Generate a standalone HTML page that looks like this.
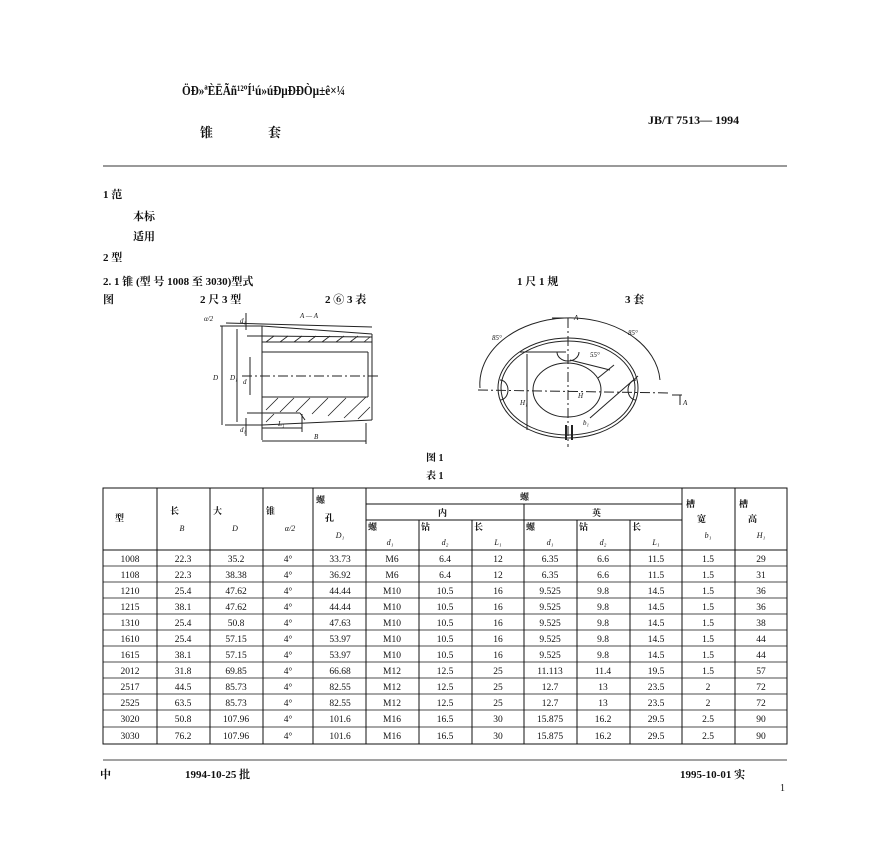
<!DOCTYPE html>
<html><head><meta charset="utf-8"><style>
html,body{margin:0;padding:0;background:#fff}
svg{display:block}
text{font-family:"Liberation Serif","Noto Serif CJK SC",serif;fill:#111}
.b{font-weight:bold}
</style></head><body>
<svg width="870" height="842" viewBox="0 0 870 842" xmlns="http://www.w3.org/2000/svg">
<g class="b" font-size="13">
<text x="182" y="95" font-size="14" textLength="163" lengthAdjust="spacingAndGlyphs">ÖÐ»ªÈËÃñ¹²ºÍ¹ú»úÐµÐÐÒµ±ê×¼</text>
<text x="200" y="137">锥</text><text x="268" y="137">套</text>
<text x="648" y="124" font-size="12">JB/T  7513— 1994</text>
</g>
<line x1="103" y1="166" x2="787" y2="166" stroke="#333" stroke-width="1"/>
<g class="b" font-size="11">
<text x="103" y="198">1  范</text>
<text x="133" y="220">本标</text>
<text x="133" y="240">适用</text>
<text x="103" y="261">2  型</text>
<text x="103" y="285">2. 1  锥  (型 号  1008 至 3030)型式</text>
<text x="517" y="285">1  尺    1 规</text>
<text x="103" y="303">图</text>
<text x="200" y="303">2 尺    3 型</text>
<text x="325" y="303">2 ⑥    3 表</text>
<text x="625" y="303">3 套</text>
</g>
<!-- left drawing -->
<g stroke="#222" fill="none" stroke-width="1">
<line x1="262" y1="326" x2="262" y2="440"/>
<line x1="262" y1="326" x2="372" y2="334"/>
<line x1="262" y1="425" x2="372" y2="420"/>
<line x1="372" y1="334" x2="372" y2="420"/>
<line x1="262" y1="336" x2="372" y2="337"/>
<line x1="262" y1="342" x2="372" y2="342"/>
<line x1="262" y1="352" x2="368" y2="352"/>
<line x1="262" y1="397" x2="368" y2="397"/>
<line x1="262" y1="413" x2="300" y2="413"/>
<line x1="300" y1="413" x2="305" y2="420"/>
<line x1="368" y1="352" x2="368" y2="397"/>
<line x1="220" y1="326" x2="262" y2="326"/>
<line x1="225" y1="425" x2="262" y2="425"/>
<line x1="222" y1="326" x2="222" y2="425"/>
<line x1="237" y1="329" x2="237" y2="422"/>
<line x1="250" y1="357" x2="250" y2="395"/>
<line x1="247" y1="336" x2="262" y2="336"/>
<line x1="247" y1="413" x2="262" y2="413"/>
<line x1="262" y1="428" x2="302" y2="428"/>
<line x1="302" y1="414" x2="302" y2="432"/>
<line x1="262" y1="441" x2="366" y2="441"/>
<line x1="366" y1="423" x2="366" y2="444"/>
<line x1="242" y1="376" x2="380" y2="376" stroke-dasharray="10 3 2 3"/>
<line x1="226" y1="323" x2="372" y2="327"/>
<line x1="246" y1="313" x2="246" y2="330"/>
<line x1="246" y1="418" x2="246" y2="436"/>
</g>
<g stroke="#222" stroke-width="0.8">
<path d="M266 342l8-6M280 342l8-6M294 342l8-6M308 342l8-6M322 342l8-6M336 342l8-6M350 342l8-6M364 342l6-5"/>
<path d="M266 410l12-12M280 412l14-14M296 412l14-14M312 414l16-16M328 416l18-18M344 418l22-21M358 419l12-12M266 422l8-8"/>
</g>
<g font-size="7" font-style="italic">
<text x="204" y="321">α/2</text><text x="300" y="318">A — A</text>
<text x="213" y="380">D</text><text x="230" y="380">D₁</text><text x="243" y="384">d</text>
<text x="240" y="323">d₁</text><text x="240" y="432">d₁</text>
<text x="278" y="426">L₁</text><text x="314" y="439">B</text>
</g>
<!-- right drawing -->
<g stroke="#222" fill="none" stroke-width="1">
<ellipse cx="568" cy="388" rx="70" ry="50"/>
<ellipse cx="568" cy="388" rx="67" ry="47"/>
<ellipse cx="567" cy="390" rx="34" ry="27"/>
<path d="M480 388 A90 66 0 0 1 660 380"/>
<path d="M557 352 A11 9 0 0 0 579 352"/>
<path d="M500 380 A8 10 0 0 1 500 400"/>
<path d="M636 380 A8 10 0 0 0 636 400"/>
<line x1="568" y1="318" x2="568" y2="447" stroke-dasharray="10 3 2 3"/>
<line x1="478" y1="390" x2="670" y2="393" stroke-dasharray="10 3 2 3"/>
<line x1="520" y1="352" x2="566" y2="352"/>
<line x1="527" y1="354" x2="527" y2="430"/>
<line x1="590" y1="418" x2="638" y2="376"/>
<line x1="570" y1="360" x2="610" y2="370"/>
<line x1="598" y1="378" x2="614" y2="365"/>
<line x1="566" y1="425" x2="566" y2="440" stroke-width="2"/>
<line x1="572" y1="425" x2="572" y2="440" stroke-width="2"/>
<line x1="552" y1="318" x2="566" y2="318"/>
<line x1="672" y1="395" x2="682" y2="395"/>
<line x1="680" y1="395" x2="680" y2="405"/>
</g>
<g font-size="7" font-style="italic">
<text x="574" y="320">A</text><text x="683" y="405">A</text>
<text x="492" y="340">85°</text><text x="628" y="335">85°</text>
<text x="590" y="357">55°</text><text x="578" y="398">H</text>
<text x="520" y="405">H₁</text><text x="583" y="425">b₁</text>
</g>
<g class="b" font-size="10">
<text x="426" y="461">图  1</text>
<text x="426" y="479">表  1</text>
</g>
<!-- table -->
<g stroke="#111" stroke-width="1" fill="none">
<rect x="103" y="488" width="684" height="256"/>
<line x1="366" y1="504" x2="682" y2="504"/>
<line x1="366" y1="520" x2="682" y2="520"/>
<line x1="103" y1="550" x2="787" y2="550"/>
<line x1="524" y1="504" x2="524" y2="744"/>
</g>
<g stroke="#111" stroke-width="1">
<line x1="157" y1="488" x2="157" y2="744"/><line x1="210" y1="488" x2="210" y2="744"/>
<line x1="263" y1="488" x2="263" y2="744"/><line x1="313" y1="488" x2="313" y2="744"/>
<line x1="366" y1="488" x2="366" y2="744"/><line x1="682" y1="488" x2="682" y2="744"/>
<line x1="735" y1="488" x2="735" y2="744"/>
<line x1="419" y1="520" x2="419" y2="744"/><line x1="472" y1="520" x2="472" y2="744"/>
<line x1="577" y1="520" x2="577" y2="744"/><line x1="630" y1="520" x2="630" y2="744"/>
<line x1="103" y1="566" x2="787" y2="566" stroke-width="0.7"/>
<line x1="103" y1="582" x2="787" y2="582" stroke-width="0.7"/>
<line x1="103" y1="598" x2="787" y2="598" stroke-width="0.7"/>
<line x1="103" y1="614" x2="787" y2="614" stroke-width="0.7"/>
<line x1="103" y1="630" x2="787" y2="630" stroke-width="0.7"/>
<line x1="103" y1="646" x2="787" y2="646" stroke-width="0.7"/>
<line x1="103" y1="662" x2="787" y2="662" stroke-width="0.7"/>
<line x1="103" y1="678" x2="787" y2="678" stroke-width="0.7"/>
<line x1="103" y1="694" x2="787" y2="694" stroke-width="0.7"/>
<line x1="103" y1="710" x2="787" y2="710" stroke-width="0.7"/>
<line x1="103" y1="727" x2="787" y2="727" stroke-width="0.7"/>
</g>
<g class="b" font-size="9">
<text x="115" y="521">型</text><text x="170" y="514">长</text><text x="213" y="514">大</text>
<text x="266" y="514">锥</text><text x="316" y="503">螺</text><text x="325" y="521">孔</text>
<text x="520" y="500">螺</text><text x="438" y="516">内</text><text x="592" y="516">英</text>
<text x="686" y="507">槽</text><text x="697" y="522">宽</text>
<text x="739" y="507">槽</text><text x="748" y="522">高</text>
<text x="368" y="530">螺</text><text x="421" y="530">钻</text><text x="474" y="530">长</text>
<text x="526" y="530">螺</text><text x="579" y="530">钻</text><text x="632" y="530">长</text>
</g>
<g font-size="8" font-style="italic" text-anchor="middle">
<text x="182" y="531">B</text><text x="235" y="531">D</text><text x="290" y="531">α/2</text>
<text x="340" y="538">D₁</text>
<text x="390" y="545">d₁</text><text x="445" y="545">d₂</text><text x="498" y="545">L₁</text>
<text x="550" y="545">d₁</text><text x="603" y="545">d₂</text><text x="656" y="545">L₁</text>
<text x="708" y="538">b₁</text><text x="761" y="538">H₁</text>
</g>
<g font-size="9.5" text-anchor="middle">
<text y="562"><tspan x="130">1008</tspan><tspan x="183">22.3</tspan><tspan x="236">35.2</tspan><tspan x="288">4°</tspan><tspan x="340">33.73</tspan><tspan x="392">M6</tspan><tspan x="445">6.4</tspan><tspan x="498">12</tspan><tspan x="550">6.35</tspan><tspan x="603">6.6</tspan><tspan x="656">11.5</tspan><tspan x="708">1.5</tspan><tspan x="761">29</tspan></text>
<text y="578"><tspan x="130">1108</tspan><tspan x="183">22.3</tspan><tspan x="236">38.38</tspan><tspan x="288">4°</tspan><tspan x="340">36.92</tspan><tspan x="392">M6</tspan><tspan x="445">6.4</tspan><tspan x="498">12</tspan><tspan x="550">6.35</tspan><tspan x="603">6.6</tspan><tspan x="656">11.5</tspan><tspan x="708">1.5</tspan><tspan x="761">31</tspan></text>
<text y="594"><tspan x="130">1210</tspan><tspan x="183">25.4</tspan><tspan x="236">47.62</tspan><tspan x="288">4°</tspan><tspan x="340">44.44</tspan><tspan x="392">M10</tspan><tspan x="445">10.5</tspan><tspan x="498">16</tspan><tspan x="550">9.525</tspan><tspan x="603">9.8</tspan><tspan x="656">14.5</tspan><tspan x="708">1.5</tspan><tspan x="761">36</tspan></text>
<text y="610"><tspan x="130">1215</tspan><tspan x="183">38.1</tspan><tspan x="236">47.62</tspan><tspan x="288">4°</tspan><tspan x="340">44.44</tspan><tspan x="392">M10</tspan><tspan x="445">10.5</tspan><tspan x="498">16</tspan><tspan x="550">9.525</tspan><tspan x="603">9.8</tspan><tspan x="656">14.5</tspan><tspan x="708">1.5</tspan><tspan x="761">36</tspan></text>
<text y="626"><tspan x="130">1310</tspan><tspan x="183">25.4</tspan><tspan x="236">50.8</tspan><tspan x="288">4°</tspan><tspan x="340">47.63</tspan><tspan x="392">M10</tspan><tspan x="445">10.5</tspan><tspan x="498">16</tspan><tspan x="550">9.525</tspan><tspan x="603">9.8</tspan><tspan x="656">14.5</tspan><tspan x="708">1.5</tspan><tspan x="761">38</tspan></text>
<text y="642"><tspan x="130">1610</tspan><tspan x="183">25.4</tspan><tspan x="236">57.15</tspan><tspan x="288">4°</tspan><tspan x="340">53.97</tspan><tspan x="392">M10</tspan><tspan x="445">10.5</tspan><tspan x="498">16</tspan><tspan x="550">9.525</tspan><tspan x="603">9.8</tspan><tspan x="656">14.5</tspan><tspan x="708">1.5</tspan><tspan x="761">44</tspan></text>
<text y="658"><tspan x="130">1615</tspan><tspan x="183">38.1</tspan><tspan x="236">57.15</tspan><tspan x="288">4°</tspan><tspan x="340">53.97</tspan><tspan x="392">M10</tspan><tspan x="445">10.5</tspan><tspan x="498">16</tspan><tspan x="550">9.525</tspan><tspan x="603">9.8</tspan><tspan x="656">14.5</tspan><tspan x="708">1.5</tspan><tspan x="761">44</tspan></text>
<text y="674"><tspan x="130">2012</tspan><tspan x="183">31.8</tspan><tspan x="236">69.85</tspan><tspan x="288">4°</tspan><tspan x="340">66.68</tspan><tspan x="392">M12</tspan><tspan x="445">12.5</tspan><tspan x="498">25</tspan><tspan x="550">11.113</tspan><tspan x="603">11.4</tspan><tspan x="656">19.5</tspan><tspan x="708">1.5</tspan><tspan x="761">57</tspan></text>
<text y="690"><tspan x="130">2517</tspan><tspan x="183">44.5</tspan><tspan x="236">85.73</tspan><tspan x="288">4°</tspan><tspan x="340">82.55</tspan><tspan x="392">M12</tspan><tspan x="445">12.5</tspan><tspan x="498">25</tspan><tspan x="550">12.7</tspan><tspan x="603">13</tspan><tspan x="656">23.5</tspan><tspan x="708">2</tspan><tspan x="761">72</tspan></text>
<text y="706"><tspan x="130">2525</tspan><tspan x="183">63.5</tspan><tspan x="236">85.73</tspan><tspan x="288">4°</tspan><tspan x="340">82.55</tspan><tspan x="392">M12</tspan><tspan x="445">12.5</tspan><tspan x="498">25</tspan><tspan x="550">12.7</tspan><tspan x="603">13</tspan><tspan x="656">23.5</tspan><tspan x="708">2</tspan><tspan x="761">72</tspan></text>
<text y="722"><tspan x="130">3020</tspan><tspan x="183">50.8</tspan><tspan x="236">107.96</tspan><tspan x="288">4°</tspan><tspan x="340">101.6</tspan><tspan x="392">M16</tspan><tspan x="445">16.5</tspan><tspan x="498">30</tspan><tspan x="550">15.875</tspan><tspan x="603">16.2</tspan><tspan x="656">29.5</tspan><tspan x="708">2.5</tspan><tspan x="761">90</tspan></text>
<text y="739"><tspan x="130">3030</tspan><tspan x="183">76.2</tspan><tspan x="236">107.96</tspan><tspan x="288">4°</tspan><tspan x="340">101.6</tspan><tspan x="392">M16</tspan><tspan x="445">16.5</tspan><tspan x="498">30</tspan><tspan x="550">15.875</tspan><tspan x="603">16.2</tspan><tspan x="656">29.5</tspan><tspan x="708">2.5</tspan><tspan x="761">90</tspan></text>
</g>
<line x1="103" y1="760" x2="787" y2="760" stroke="#444" stroke-width="1"/>
<g class="b" font-size="11">
<text x="100" y="778">中</text>
<text x="185" y="778">1994-10-25  批</text>
<text x="680" y="778">1995-10-01  实</text>
<text x="780" y="791" font-size="10" font-weight="normal">1</text>
</g>
</svg>
</body></html>
